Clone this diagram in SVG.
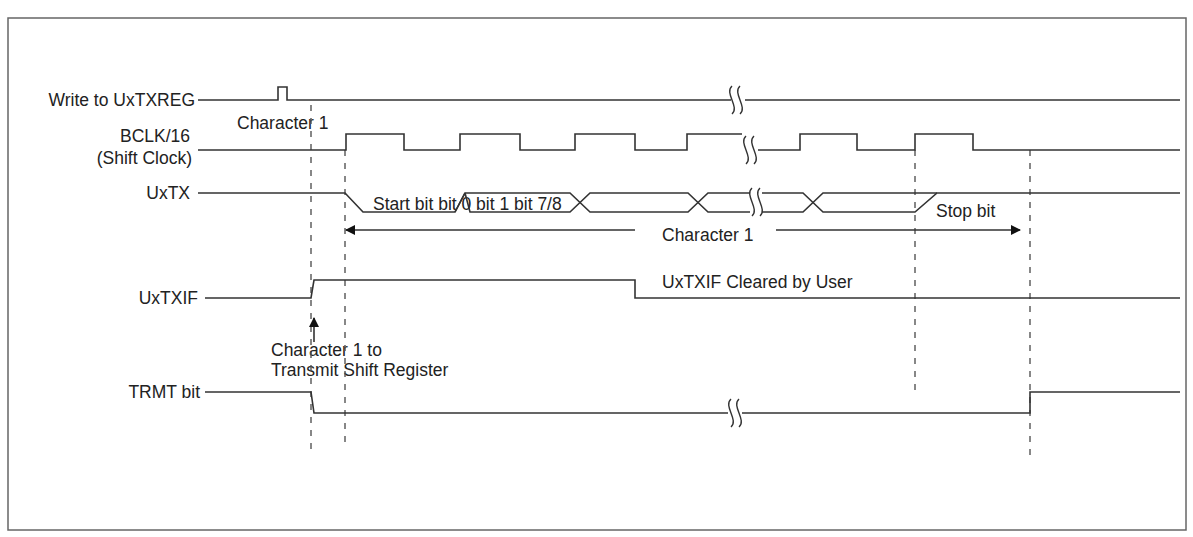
<svg xmlns="http://www.w3.org/2000/svg" width="1193" height="537" viewBox="0 0 1193 537">
<style>
.w{fill:none;stroke:#333;stroke-width:1.6}
.d{fill:none;stroke:#555;stroke-width:1.4;stroke-dasharray:6,7}
.b{fill:none;stroke:#333;stroke-width:1.4}
text{font-family:"Liberation Sans",Arial,sans-serif;font-size:17.5px;fill:#222}
.r{text-anchor:end}
</style>
<defs>
<marker id="ah" markerWidth="10" markerHeight="10" refX="9" refY="5" orient="auto-start-reverse" markerUnits="userSpaceOnUse"><path d="M0,0 L10,5 L0,10 Z" fill="#111"/></marker>
<g id="brk"><path class="b" d="M-3,-14 C-11,-7 5,7 -3,14 M5,-14 C-3,-7 13,7 5,14"/></g>
</defs>
<rect x="8" y="18" width="1178" height="512" fill="#fff" stroke="#666" stroke-width="1.5"/>
<g id="labels">
<text class="r" x="195" y="106">Write to UxTXREG</text>
<text x="237" y="129">Character 1</text>
<text class="r" x="190" y="142">BCLK/16</text>
<text class="r" x="192" y="164">(Shift Clock)</text>
<text class="r" x="190" y="199">UxTX</text>
<text x="373" y="210">Start bit bit 0 bit 1 bit 7/8</text>
<text x="936" y="217">Stop bit</text>
<text x="662" y="241">Character 1</text>
<text class="r" x="198" y="304">UxTXIF</text>
<text x="662" y="288">UxTXIF Cleared by User</text>
<text x="271" y="356">Character 1 to</text>
<text x="271" y="376">Transmit Shift Register</text>
<text class="r" x="200" y="398">TRMT bit</text>
</g>
<g id="connectors">
<path class="d" d="M311,105 V450 M345,150 V445 M915,150 V395 M1030,150 V460"/>
<path class="w" d="M198,100 H278 V87 H287 V100 H731 M745,100 H1180"/>
<path class="w" d="M198,150 H346 V134 H404 V150 H460 V134 H520 V150 H575 V134 H635 V150 H687 V134 H742 M758,150 H800 V134 H857 V150 H915 V134 H973 V150 H1180"/>
<path class="w" d="M198,193 H345 L363,212 H455 L465,193"/>
<path class="w" d="M455,212 L465,193 H570 L590,212 H688 L708,193 H750 M762,193 H803 L823,212 H915 L937,193 H1180"/>
<path class="w" d="M465,193 L470,212 H570 L590,193 H688 L708,212 H750 M762,212 H803 L823,193 H937"/>
<path class="w" d="M355,230 H635 M776,230 H1020" marker-end="url(#ah)"/>
<path class="w" d="M355,230 H346" marker-end="url(#ah)"/>
<path class="w" d="M205,298 H311 L314,280 H635 V298 H1180"/>
<path class="w" d="M314,342 V318" marker-end="url(#ah)"/>
<path class="w" d="M205,392 H311 L314,413 H728 M742,413 H1030 V392 H1180"/>
<use href="#brk" x="735" y="100"/>
<use href="#brk" x="749" y="150"/>
<use href="#brk" x="755" y="202"/>
<use href="#brk" x="734" y="413"/>
</g>
</svg>
